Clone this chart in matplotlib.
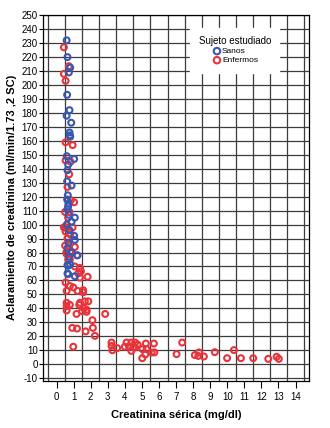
import matplotlib
matplotlib.use("Agg")
import matplotlib.pyplot as plt
import numpy as np

plt.rcParams['font.family'] = ['Liberation Sans Narrow', 'Liberation Sans', 'DejaVu Sans']

# Sujeto estudiado: Sanos
sanos_x = [0.59, 0.64, 0.80, 0.72, 0.62, 0.76, 0.59, 0.86, 0.76, 0.78, 0.80,
           1.03, 0.60, 0.68, 0.64, 0.62, 0.88, 0.62, 0.66, 0.68, 0.70, 0.64,
           1.07, 0.72, 0.88, 0.60, 0.76, 1.03, 1.07, 0.70, 0.64, 0.90, 1.23,
           0.74, 0.68, 0.64, 0.80, 0.68, 1.07, 0.64]
sanos_y = [232, 220, 212.5, 209, 193, 182, 178, 173, 166, 164, 163,
           147, 149, 143, 139, 131, 128, 118, 121, 113, 115, 111,
           105, 107, 102, 100, 96, 92, 89, 87, 83, 80, 78,
           77, 70.5, 71, 71.5, 64.5, 63, 65]

# Sujeto estudiado: Enfermos
enfermos_x = [0.43, 0.72, 0.43, 0.53, 0.53, 0.94, 0.53, 0.82, 0.74, 0.64,
              0.84, 1.03, 0.50, 0.76, 0.68, 0.43, 0.60, 0.94, 0.53, 0.80,
              0.64, 0.72, 0.50, 1.07, 0.57, 0.80, 1.20, 0.68, 0.49, 0.59,
              0.78, 1.07, 1.37, 1.43, 1.27, 1.37, 1.82, 0.53, 0.78, 0.98,
              0.59, 1.23, 1.56, 1.56, 0.59, 0.78, 0.59, 0.59, 1.37, 1.33,
              1.66, 1.86, 1.60, 1.76, 1.76, 1.50, 1.17, 2.85, 2.10, 0.92,
              1.20, 2.13, 1.70, 2.25, 0.98,
              3.22, 3.22, 3.27, 3.55, 4.00, 4.10, 4.25, 4.38, 4.38, 4.50,
              4.60, 4.60, 4.75, 5.02, 5.03, 5.23, 5.27, 5.20, 5.57, 5.70,
              5.73, 7.03, 7.36, 8.10, 8.35, 8.30, 8.63, 9.27, 9.99, 10.39,
              10.80, 11.52, 12.40, 12.89, 13.02]
enfermos_y = [227, 213.5, 208, 203, 159, 157, 146, 145, 136, 127,
              117.5, 116, 109, 109, 105, 98, 98, 98, 95, 93,
              90, 85, 85, 84, 80, 80, 78, 75, 98, 79,
              75, 70, 69, 66.5, 65, 62, 62.6, 58.5, 56, 55,
              52.5, 52.5, 53, 51.5, 44, 42.5, 41.5, 38.5, 44, 42.5,
              45, 45, 40, 39, 37.5, 38, 36, 36, 31.5, 26,
              25.5, 26, 23.5, 20.3, 12.5,
              15.5, 13.1, 10, 11.5, 12.5, 15.5, 12.5, 15.5, 9.5, 12,
              15.5, 12, 14, 4.3, 10.8, 14.8, 10.8, 7.0, 8.4, 14.8,
              8.4, 7.2, 15.5, 6.5, 8.4, 5.9, 5.5, 8.6, 4.3, 10.1,
              4.3, 4.3, 3.8, 5.3, 3.8]

x_ticks = list(range(0, 15))
y_ticks = list(range(-10, 251, 10))

fig = plt.figure(figsize=(3.3, 4.28), dpi=100)
ax = fig.add_axes([0.131, 0.110, 0.805, 0.856])

ax.scatter(enfermos_x, enfermos_y, s=18, facecolors='none', edgecolors='#e8333b',
           linewidths=1.5, label='Enfermos', zorder=3)
ax.scatter(sanos_x, sanos_y, s=18, facecolors='none', edgecolors='#3a57b0',
           linewidths=1.5, label='Sanos', zorder=4)

ax.set_xlim(-0.78, 14.78)
ax.set_ylim(-12, 250.5)

ax.set_xticks(x_ticks)
ax.set_xticklabels([str(t) for t in x_ticks], fontsize=7)
ax.set_xticks(np.arange(-0.5, 15, 1.0), minor=True)
ax.set_yticks(y_ticks)
ax.set_yticklabels([str(t) for t in y_ticks], fontsize=7)
ax.tick_params(axis='x', which='major', length=5, width=0.8, pad=3)
ax.tick_params(axis='x', which='minor', length=0)
ax.tick_params(axis='y', which='major', length=3, width=0.8, pad=1)

ax.grid(True, axis='x', which='minor', color='#3c3c3c', lw=0.9)
ax.grid(True, axis='y', which='major', color='#3c3c3c', lw=0.9)
ax.set_axisbelow(True)
for s in ax.spines.values():
    s.set_linewidth(0.9)

ax.set_xlabel('Creatinina sérica (mg/dl)', fontsize=8, fontweight='bold', labelpad=6)
ax.set_ylabel('Aclaramiento de creatinina (ml/min/1.73 ,2 SC)', fontsize=8,
              fontweight='bold', labelpad=3)

h, l = ax.get_legend_handles_labels()
leg = ax.legend(h[::-1], l[::-1], title='Sujeto estudiado', loc='upper right',
                bbox_to_anchor=(0.905, 0.975), fontsize=6, title_fontsize=7,
                frameon=True, fancybox=False, edgecolor='white', framealpha=1,
                handletextpad=0.0, handlelength=1.2, borderpad=1.0,
                labelspacing=0.15, markerscale=1.1)

fig.savefig('out.png', dpi=100)
